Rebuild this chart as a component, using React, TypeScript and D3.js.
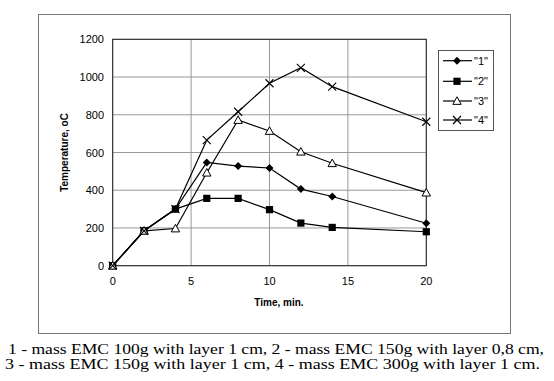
import React from "react";
import * as d3 from "d3";

const times = [0, 2, 4, 6, 8, 10, 12, 14, 20];
const series1 = [0, 185, 300, 547, 528, 518, 406, 367, 225];
const series2 = [0, 185, 300, 357, 357, 297, 226, 203, 180];
const series3 = [0, 185, 197, 493, 772, 714, 604, 543, 387];
const series4 = [0, 185, 300, 666, 816, 967, 1049, 949, 763];
const seriesNames = ['"1"', '"2"', '"3"', '"4"'];
const markerTypes = ["diamond", "square", "triangle", "cross"];
const xTicks = [0, 5, 10, 15, 20];
const yTicks = [0, 200, 400, 600, 800, 1000, 1200];
const captionLines = [
  "1 - mass EMC 100g with layer 1 cm, 2 - mass EMC 150g with layer 0,8 cm,",
  "3 - mass EMC 150g with layer 1 cm, 4 - mass EMC 300g with layer 1 cm.",
];

function Marker({ type, x, y }: { type: string; x: number; y: number }) {
  if (type === "diamond") {
    const r = 4;
    return <path d={`M${x},${y - r}L${x + r},${y}L${x},${y + r}L${x - r},${y}Z`} fill="#000" />;
  }
  if (type === "square") {
    const r = 3.6;
    return <rect x={x - r} y={y - r} width={2 * r} height={2 * r} fill="#000" />;
  }
  if (type === "triangle") {
    const r = 4.2;
    return (
      <path
        d={`M${x},${y - r}L${x + r},${y + r * 0.8}L${x - r},${y + r * 0.8}Z`}
        fill="#fff"
        stroke="#000"
        strokeWidth={1}
      />
    );
  }
  const r = 4;
  return (
    <path d={`M${x - r},${y - r}L${x + r},${y + r}M${x - r},${y + r}L${x + r},${y - r}`} stroke="#000" strokeWidth={1.1} />
  );
}

export default function App() {
  const W = 554, H = 381;
  const x = d3.scaleLinear().domain([0, 20]).range([112.7, 426.3]);
  const y = d3.scaleLinear().domain([0, 1200]).range([265.7, 39.3]);
  const all = [series1, series2, series3, series4];
  const line = d3
    .line<number>()
    .x((_, i) => x(times[i]))
    .y((d) => y(d));
  const fontSans = "Arial, 'Liberation Sans', sans-serif";
  const legendYs = [60.7, 81.3, 101, 120];
  const captionX = [8, 5];
  const captionLen = [536, 535];
  return (
    <svg
      width={W}
      height={H}
      style={{ position: "absolute", left: 0, top: 0, background: "#fff" }}
    >
      <rect x={38.5} y={14.5} width={472} height={319} fill="none" stroke="#777" strokeWidth={1} />
      {/* grid */}
      {yTicks.map((t) => (
        <line key={"gy" + t} x1={x(0)} x2={x(20)} y1={y(t)} y2={y(t)} stroke="#999" strokeWidth={1} />
      ))}
      {xTicks.map((t) => (
        <line key={"gx" + t} x1={x(t)} x2={x(t)} y1={y(0)} y2={y(1200)} stroke="#999" strokeWidth={1} />
      ))}
      <rect x={x(0)} y={y(1200)} width={x(20) - x(0)} height={y(0) - y(1200)} fill="none" stroke="#222" strokeWidth={1} />
      {/* tick labels */}
      {yTicks.map((t) => (
        <text key={"ty" + t} x={104} y={y(t) + 4} textAnchor="end" fontFamily={fontSans} fontSize={11}>
          {t}
        </text>
      ))}
      {xTicks.map((t) => (
        <text key={"tx" + t} x={x(t)} y={285} textAnchor="middle" fontFamily={fontSans} fontSize={11}>
          {t}
        </text>
      ))}
      <text
        transform={`translate(68,${(y(0) + y(1200)) / 2}) rotate(-90)`}
        textAnchor="middle"
        fontFamily={fontSans}
        fontSize={10}
        fontWeight="bold"
      >
        Temperature, oC
      </text>
      <text x={279} y={306} textAnchor="middle" fontFamily={fontSans} fontSize={10} fontWeight="bold">
        Time, min.
      </text>
      {/* lines */}
      {all.map((s, k) => (
        <path key={"l" + k} d={line(s) || ""} fill="none" stroke="#000" strokeWidth={1.2} />
      ))}
      {all.map((s, k) =>
        s.map((v, i) => <Marker key={`m${k}-${i}`} type={markerTypes[k]} x={x(times[i])} y={y(v)} />)
      )}
      {/* legend */}
      <rect x={438.5} y={50.5} width={55} height={80} fill="#fff" stroke="#555" strokeWidth={1} />
      {seriesNames.map((n, k) => (
        <g key={"lg" + k}>
          <line x1={443} x2={472} y1={legendYs[k]} y2={legendYs[k]} stroke="#000" strokeWidth={1.2} />
          <Marker type={markerTypes[k]} x={457} y={legendYs[k]} />
          <text x={474} y={legendYs[k] + 4} fontFamily={fontSans} fontSize={11}>
            {n}
          </text>
        </g>
      ))}
      {/* caption */}
      {captionLines.map((c, i) => (
        <text
          key={"c" + i}
          x={captionX[i]}
          y={354 + i * 15}
          fontFamily="'Liberation Serif', 'Times New Roman', serif"
          fontSize={15}
          textLength={captionLen[i]}
          lengthAdjust="spacingAndGlyphs"
        >
          {c}
        </text>
      ))}
    </svg>
  );
}
